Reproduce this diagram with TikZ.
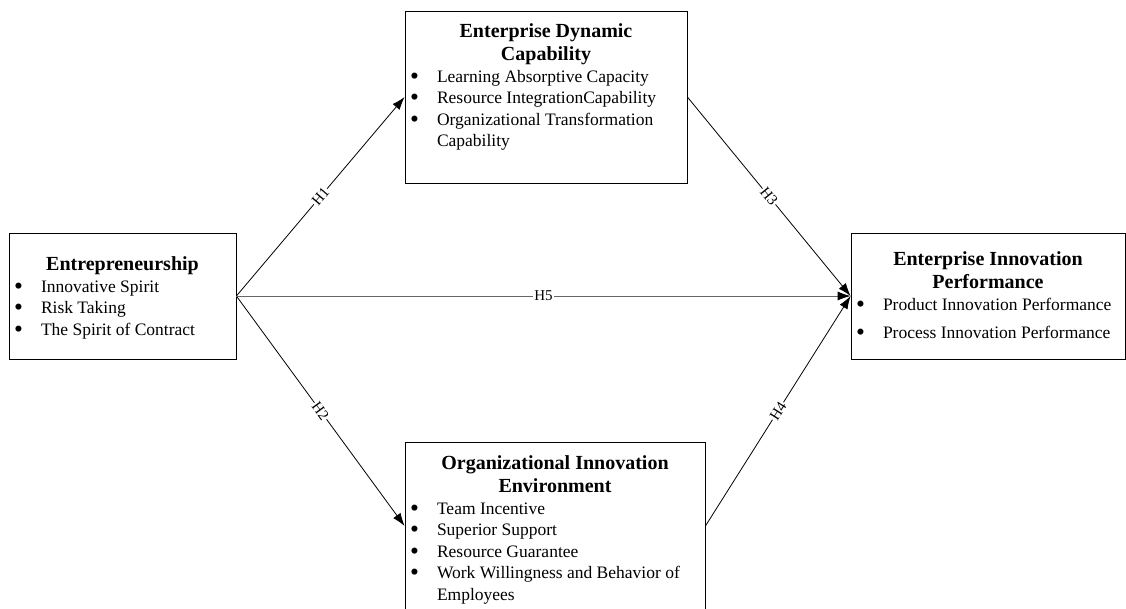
\documentclass[tikz,border=0pt]{standalone}
\usepackage{fontspec}
\setmainfont{Liberation Serif}
\usetikzlibrary{arrows.meta}

% heading and bullet lines inside the boxes
\newcommand{\boxhead}[1]{{\centering\bfseries\fontsize{20}{23}\selectfont #1\par}}
\newcommand{\bitem}[1]{{\raggedright\hangindent=27pt\hangafter=1\makebox[27pt][l]{\raisebox{-2pt}{\scalebox{1.45}{\textbullet}}}#1\par}}
% box body: width, height, inner position (t or c), text
\newcommand{\boxbody}[4]{\begin{minipage}[c][#2][#3]{#1}\fontsize{17.5}{21.5}\selectfont#4\end{minipage}}

\begin{document}
\begin{tikzpicture}[x=1pt,y=-1pt,
    box/.style = {draw, line width=0.8pt, inner xsep=5pt, inner ysep=0pt},
    hyp/.style = {line width=0.8pt, -{Latex[length=13pt,width=9pt,color=black]}},
    lab/.style = {midway, sloped, fill=white, inner sep=1pt, font=\fontsize{15}{15}\selectfont}]
    \useasboundingbox (0,0) rectangle (1126,608);
        \node[box] (ent) at (122.5,296)
            {\boxbody{217pt}{126pt}{c}{\vspace*{4pt}%
             \boxhead{Entrepreneurship}
             \bitem{Innovative Spirit}
             \bitem{Risk Taking}
             \bitem{The Spirit of Contract}}};
        \node[box] (edc) at (546,97)
            {\boxbody{272pt}{172pt}{t}{\vspace*{13pt}%
             \boxhead{Enterprise Dynamic\\Capability}
             \bitem{Learning Absorptive Capacity}
             \bitem{Resource IntegrationCapability}
             \bitem{Organizational Transformation\newline Capability}}};
        \node[box] (eip) at (988,296)
            {\boxbody{264pt}{126pt}{c}{%
             \boxhead{Enterprise Innovation\\Performance}
             \bitem{Product Innovation Performance}\vspace{6.5pt}
             \bitem{Process Innovation Performance}}};
        \node[box] (oie) at (555,526)
            {\boxbody{290pt}{168pt}{t}{\vspace*{14pt}%
             \boxhead{Organizational Innovation\\Environment}
             \bitem{Team Incentive}
             \bitem{Superior Support}
             \bitem{Resource Guarantee}
             \bitem{Work Willingness and Behavior of\newline Employees}}};
        \draw[hyp] (ent.east) -- node[lab] {H1} (edc.west);
        \draw[hyp] (ent.east) -- node[lab] {H2} (oie.west);
        \draw[hyp] (edc.east) -- node[lab] {H3} (eip.west);
        \draw[hyp] (oie.east) -- node[lab] {H4} (eip.west);
        \draw[hyp, draw=black!60] (ent.east) -- node[lab] {H5} (eip.west);
\end{tikzpicture}
\end{document}
